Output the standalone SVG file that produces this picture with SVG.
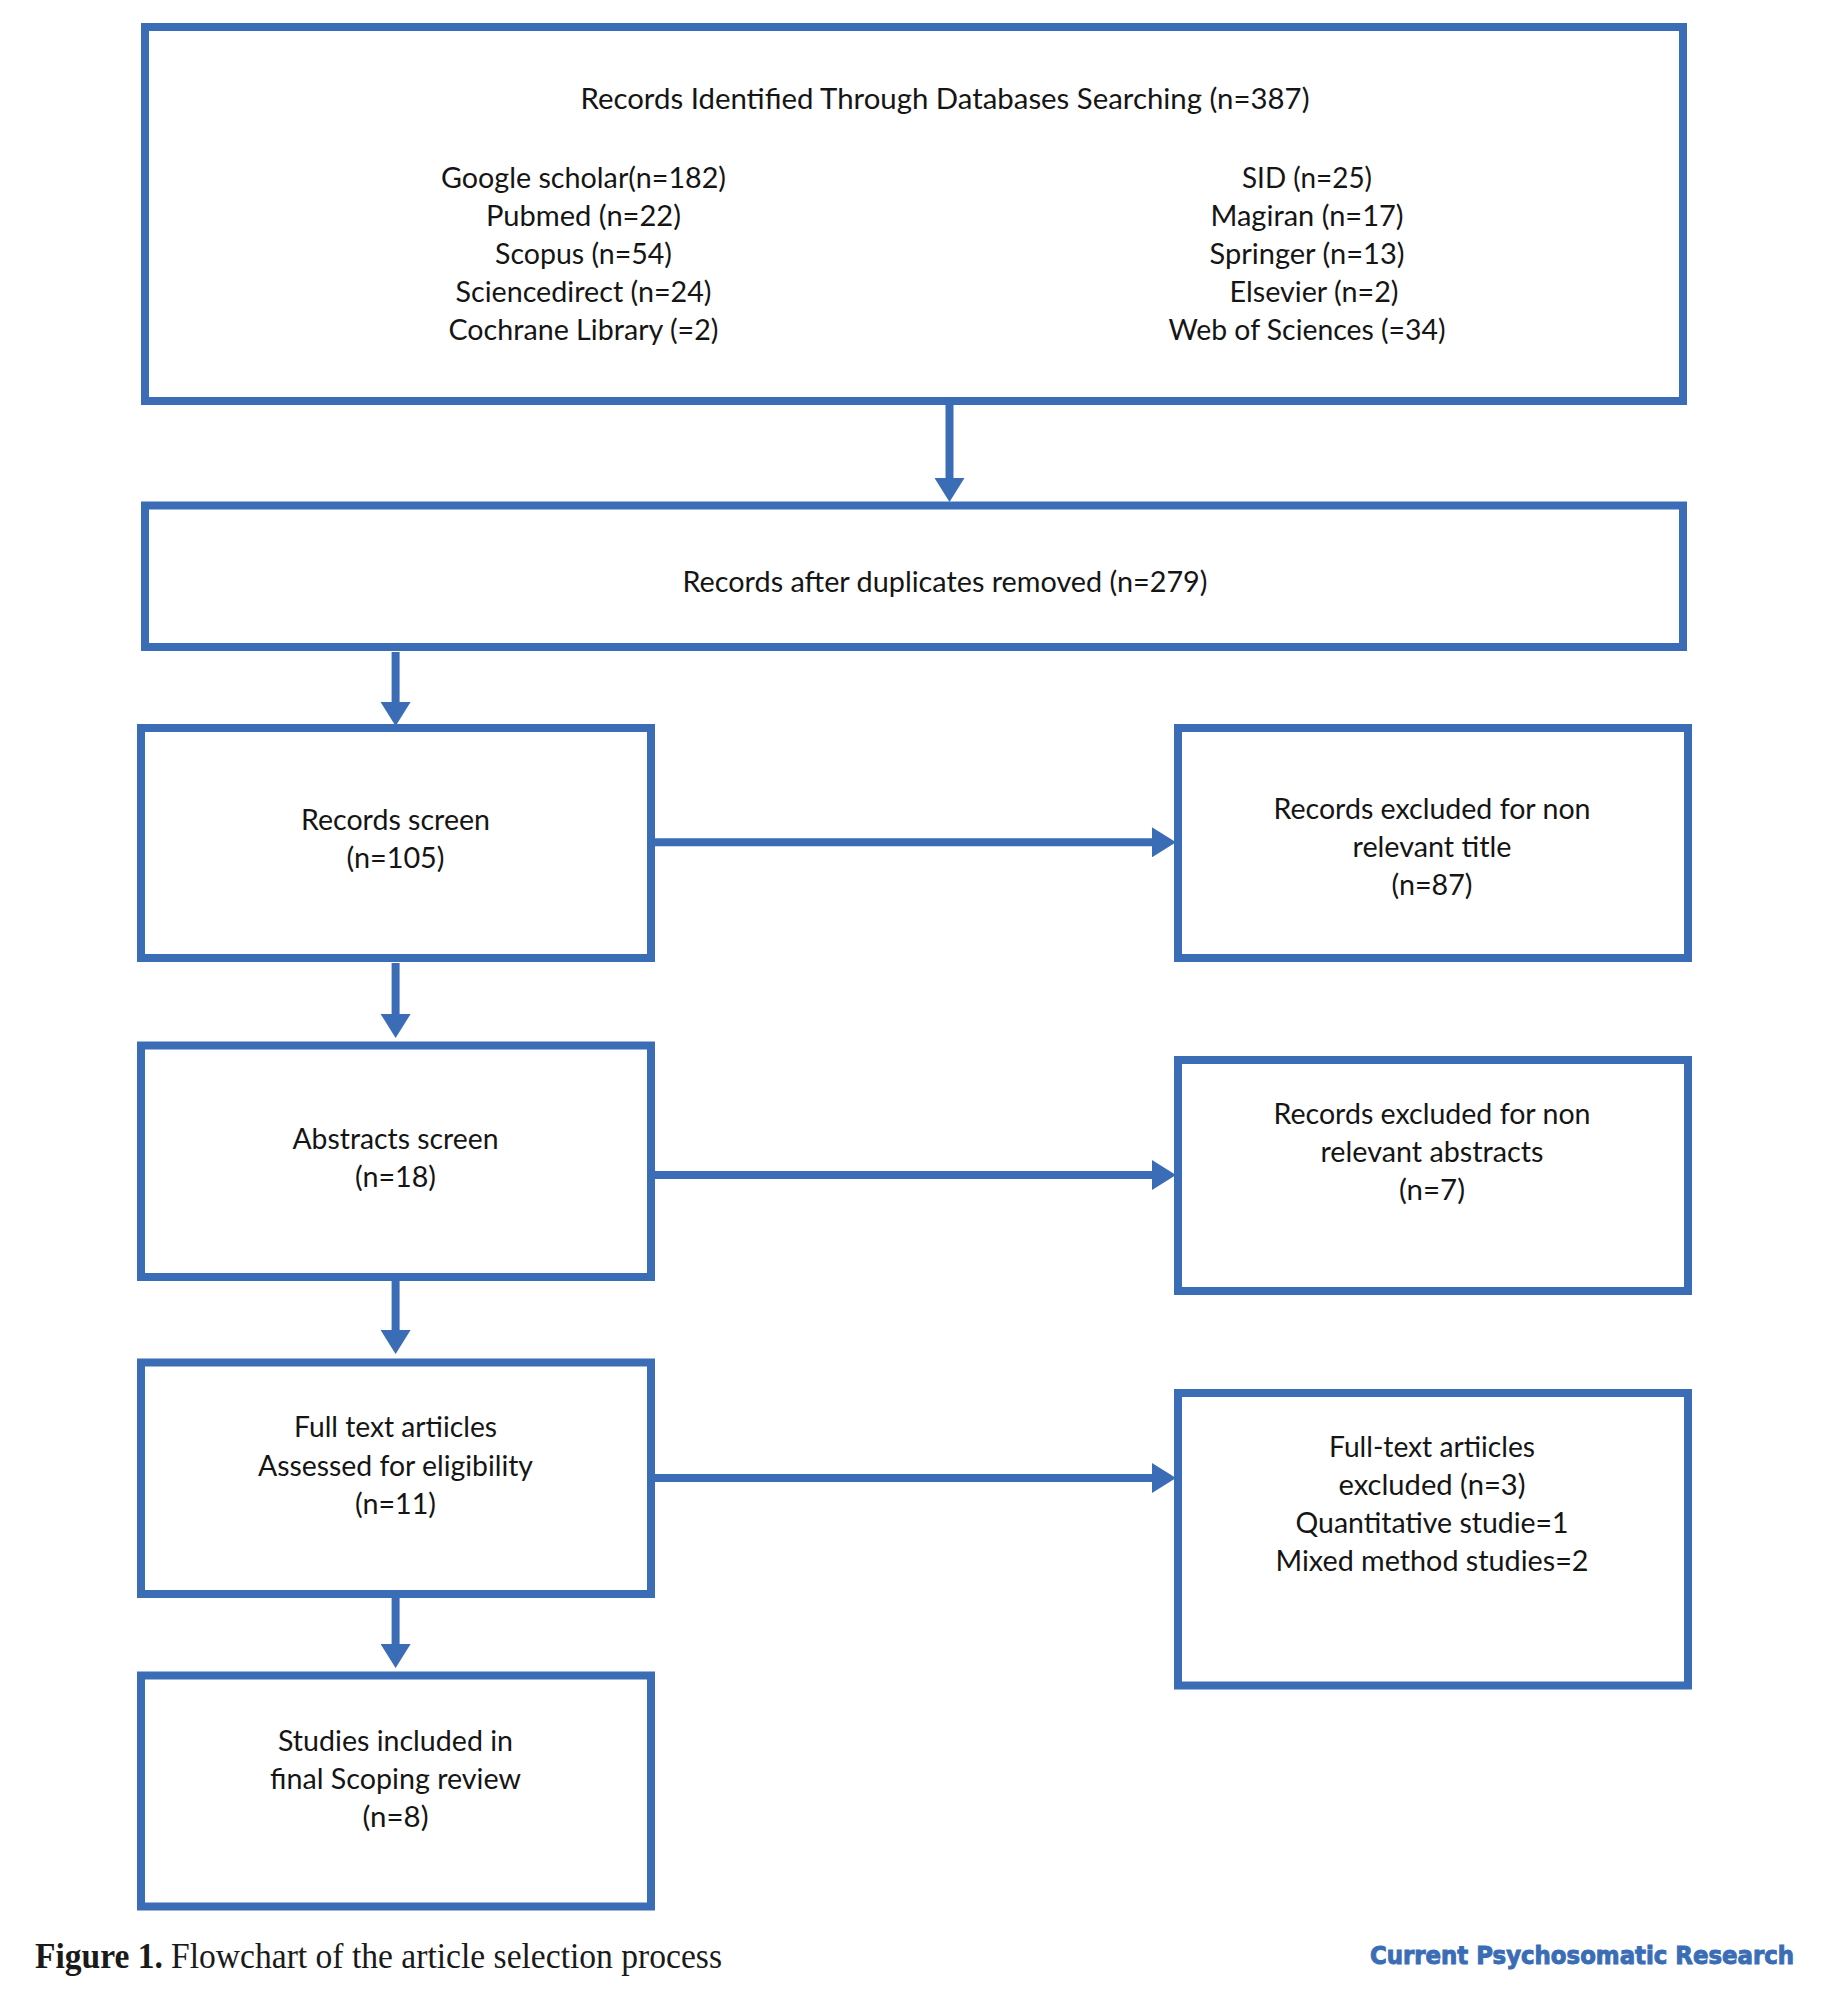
<svg xmlns="http://www.w3.org/2000/svg" width="1831" height="2000" viewBox="0 0 1831 2000">
<style>
.box{fill:#fff;stroke:#3a6db5;stroke-width:8}
.edge{fill:none;stroke:#3a6db5;stroke-width:8}
.t{font-family:"Lato","Liberation Sans",sans-serif;font-size:29px;fill:#151515;text-anchor:middle}
.cap{font-family:"Liberation Serif",serif;font-size:36px;fill:#1a1a1a}
.brand{font-family:"DejaVu Sans",sans-serif;font-weight:bold;font-size:25px;fill:#3a6db5;stroke:#3a6db5;stroke-width:1}
</style>
<defs>
<marker id="arrow" markerUnits="userSpaceOnUse" markerWidth="25" markerHeight="30" refX="0" refY="15" orient="auto"><path d="M0,0 L24,15 L0,30 Z" fill="#3a6db5"/></marker>
</defs>
<rect width="1831" height="2000" fill="#fff"/>
<g id="n-identified">
<rect class="box" x="145" y="27" width="1538" height="374"/>
<text class="t" x="945" y="109" textLength="729" lengthAdjust="spacingAndGlyphs">Records Identified Through Databases Searching (n=387)</text>
<text class="t" x="583.5" y="188" textLength="285" lengthAdjust="spacingAndGlyphs">Google scholar(n=182)</text>
<text class="t" x="583.5" y="226" textLength="195" lengthAdjust="spacingAndGlyphs">Pubmed (n=22)</text>
<text class="t" x="583.5" y="264" textLength="177" lengthAdjust="spacingAndGlyphs">Scopus (n=54)</text>
<text class="t" x="583.5" y="302" textLength="256" lengthAdjust="spacingAndGlyphs">Sciencedirect (n=24)</text>
<text class="t" x="583.5" y="340" textLength="270" lengthAdjust="spacingAndGlyphs">Cochrane Library (=2)</text>
<text class="t" x="1307" y="188" textLength="130" lengthAdjust="spacingAndGlyphs">SID (n=25)</text>
<text class="t" x="1307" y="226" textLength="193" lengthAdjust="spacingAndGlyphs">Magiran (n=17)</text>
<text class="t" x="1307" y="264" textLength="195" lengthAdjust="spacingAndGlyphs">Springer (n=13)</text>
<text class="t" x="1314" y="302" textLength="169" lengthAdjust="spacingAndGlyphs">Elsevier (n=2)</text>
<text class="t" x="1307" y="340" textLength="277" lengthAdjust="spacingAndGlyphs">Web of Sciences (=34)</text>
</g>
<g id="n-duplicates">
<rect class="box" x="145" y="505.5" width="1538" height="141.5"/>
<text class="t" x="945" y="592" textLength="525" lengthAdjust="spacingAndGlyphs">Records after duplicates removed (n=279)</text>
</g>
<g id="n-records-screen">
<rect class="box" x="141" y="728" width="510" height="230"/>
<text class="t" x="395.5" y="830" textLength="189" lengthAdjust="spacingAndGlyphs">Records screen</text>
<text class="t" x="395.5" y="868" textLength="98" lengthAdjust="spacingAndGlyphs">(n=105)</text>
</g>
<g id="n-excluded-title">
<rect class="box" x="1178" y="728" width="510" height="230"/>
<text class="t" x="1432" y="819" textLength="317" lengthAdjust="spacingAndGlyphs">Records excluded for non</text>
<text class="t" x="1432" y="857" textLength="159" lengthAdjust="spacingAndGlyphs">relevant title</text>
<text class="t" x="1432" y="895" textLength="81" lengthAdjust="spacingAndGlyphs">(n=87)</text>
</g>
<g id="n-abstracts-screen">
<rect class="box" x="141" y="1045.5" width="510" height="231.5"/>
<text class="t" x="395.5" y="1149" textLength="206" lengthAdjust="spacingAndGlyphs">Abstracts screen</text>
<text class="t" x="395.5" y="1187" textLength="81" lengthAdjust="spacingAndGlyphs">(n=18)</text>
</g>
<g id="n-excluded-abstracts">
<rect class="box" x="1178" y="1060" width="510" height="231"/>
<text class="t" x="1432" y="1124" textLength="317" lengthAdjust="spacingAndGlyphs">Records excluded for non</text>
<text class="t" x="1432" y="1162" textLength="223" lengthAdjust="spacingAndGlyphs">relevant abstracts</text>
<text class="t" x="1432" y="1200" textLength="66" lengthAdjust="spacingAndGlyphs">(n=7)</text>
</g>
<g id="n-fulltext">
<rect class="box" x="141" y="1362.5" width="510" height="231.5"/>
<text class="t" x="395.5" y="1437" textLength="203" lengthAdjust="spacingAndGlyphs">Full text artiicles</text>
<text class="t" x="395.5" y="1476" textLength="275" lengthAdjust="spacingAndGlyphs">Assessed for eligibility</text>
<text class="t" x="395.5" y="1514" textLength="81" lengthAdjust="spacingAndGlyphs">(n=11)</text>
</g>
<g id="n-excluded-fulltext">
<rect class="box" x="1178" y="1393" width="510" height="292.5"/>
<text class="t" x="1432" y="1457" textLength="206" lengthAdjust="spacingAndGlyphs">Full-text artiicles</text>
<text class="t" x="1432" y="1495" textLength="187" lengthAdjust="spacingAndGlyphs">excluded (n=3)</text>
<text class="t" x="1432" y="1533" textLength="273" lengthAdjust="spacingAndGlyphs">Quantitative studie=1</text>
<text class="t" x="1432" y="1571" textLength="313" lengthAdjust="spacingAndGlyphs">Mixed method studies=2</text>
</g>
<g id="n-included">
<rect class="box" x="141" y="1675.5" width="510" height="231"/>
<text class="t" x="395.5" y="1751" textLength="235" lengthAdjust="spacingAndGlyphs">Studies included in</text>
<text class="t" x="395.5" y="1789" textLength="251" lengthAdjust="spacingAndGlyphs">final Scoping review</text>
<text class="t" x="395.5" y="1827" textLength="66" lengthAdjust="spacingAndGlyphs">(n=8)</text>
</g>
<g id="connectors">
<path class="edge" d="M949.5,397 V478" marker-end="url(#arrow)"/>
<path class="edge" d="M395.6,652 V702" marker-end="url(#arrow)"/>
<path class="edge" d="M395.6,963 V1014" marker-end="url(#arrow)"/>
<path class="edge" d="M395.6,1280 V1330" marker-end="url(#arrow)"/>
<path class="edge" d="M395.6,1597 V1644" marker-end="url(#arrow)"/>
<path class="edge" d="M651,842.3 H1152" marker-end="url(#arrow)"/>
<path class="edge" d="M651,1175 H1152" marker-end="url(#arrow)"/>
<path class="edge" d="M651,1478 H1152" marker-end="url(#arrow)"/>
</g>
<text class="cap" x="35" y="1968" font-weight="bold" textLength="128" lengthAdjust="spacingAndGlyphs">Figure 1.</text>
<text class="cap" x="171" y="1968" textLength="551" lengthAdjust="spacingAndGlyphs">Flowchart of the article selection process</text>
<text class="brand" x="1370" y="1964" textLength="424" lengthAdjust="spacingAndGlyphs">Current Psychosomatic Research</text>
</svg>
